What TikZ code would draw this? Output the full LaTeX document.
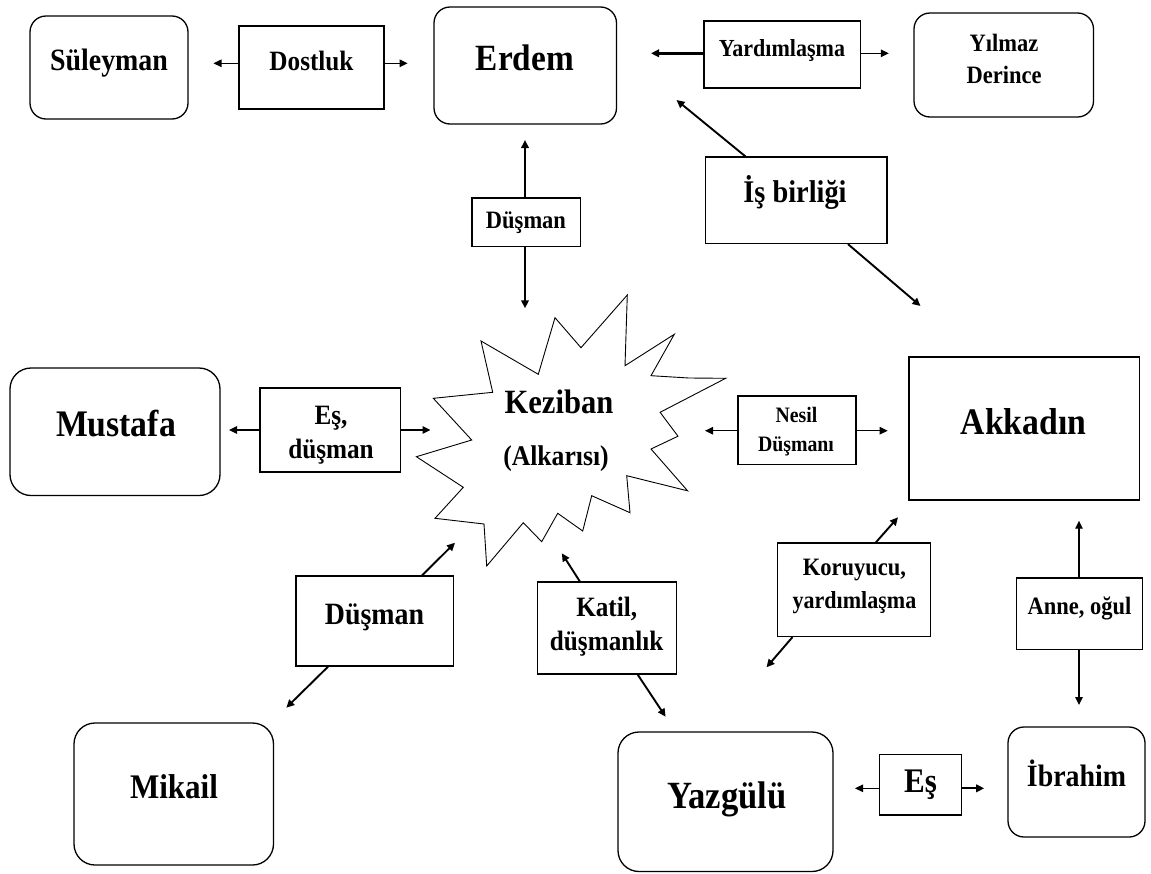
\documentclass[tikz,border=0pt]{standalone}
\usepackage{fontspec}
\setmainfont{Liberation Serif}[FakeStretch=0.9]
\usetikzlibrary{arrows.meta,calc,fit}

\tikzset{
  box/.style={draw, line width=1.3pt, inner sep=0pt},
  rbox/.style={box, rounded corners=16pt},
  bigrbox/.style={box, rounded corners=21pt},
  lbl/.style={inner sep=0pt, anchor=base, font=\bfseries\fontsize{#1}{#1}\selectfont},
  tip/.style={-{Triangle[length=8pt,width=7.5pt]}},
  arr/.style={tip, line width=1.9pt},
  arrthin/.style={tip, line width=1.2pt},
  arrbold/.style={tip, line width=2.4pt},
  starline/.style={draw, line width=0.9pt, line join=miter},
}

\begin{document}
\begin{tikzpicture}[x=1pt, y=-1pt]
\useasboundingbox (0,0) rectangle (1151,873);

% ---------- characters ----------
\node[rbox, fit={(30,16) (188,119)}] (suleyman) {};
\node[lbl=31] (suleyman-t) at (109,70.7) {Süleyman};

\node[rbox, fit={(434,7) (616.5,124)}] (erdem) {};
\node[lbl=37] (erdem-t) at (525,70.7) {Erdem};

\node[rbox, fit={(914,13) (1093.5,117)}] (yilmaz) {};
\node[lbl=25] (yilmaz-t1) at (1004,51.7) {Yılmaz};
\node[lbl=25] (yilmaz-t2) at (1004,83.3) {Derince};

\node[bigrbox, fit={(10,368) (220,495.5)}] (mustafa) {};
\node[lbl=37.5] (mustafa-t) at (116,436.7) {Mustafa};

\node[box, fit={(909,357) (1139.5,500)}] (akkadin) {};
\node[lbl=37.5] (akkadin-t) at (1023.5,434) {Akkadın};

\node[bigrbox, fit={(74,723) (273.5,865)}] (mikail) {};
\node[lbl=34.5] (mikail-t) at (174,798.3) {Mikail};

\node[bigrbox, fit={(618,732) (833,871.5)}] (yazgulu) {};
\node[lbl=38.5] (yazgulu-t) at (727,808.3) {Yazgülü};

\node[rbox, fit={(1008,727) (1145,837)}] (ibrahim) {};
\node[lbl=31] (ibrahim-t) at (1076.5,786) {İbrahim};

% ---------- central figure ----------
\draw[starline]
  (481,341) -- (538.3,374.3) -- (555,317.7) -- (581,347.7) -- (627.3,295)
  -- (625,365.7) -- (674.3,334.3) -- (651,375.7) -- (689,378) -- (725.7,378.3)
  -- (660.1,412.3) -- (678,436.2) -- (651,449) -- (687.6,490.8)
  -- (626.7,475.7) -- (630,512.7) -- (591.7,495.7) -- (582.7,531)
  -- (557.7,513.3) -- (541.7,541.7) -- (523.3,522.7) -- (486.7,566)
  -- (484,524) -- (435,518.3) -- (463.3,487.3) -- (416.4,456.7)
  -- (471.7,440) -- (433.3,398.3) -- (492.7,392.3) -- cycle;
\node[lbl=34] (keziban-t) at (559,413.3) {Keziban};
\node[lbl=28.5] (alkarisi-t) at (556,465) {(Alkarısı)};

% ---------- relation boxes ----------
\node[box, fit={(239,26) (384,109)}] (dostluk) {};
\node[lbl=28] (dostluk-t) at (311.5,70.7) {Dostluk};

\node[box, fit={(704,21) (860.5,88)}] (yardim) {};
\node[lbl=24.5] (yardim-t) at (782,56.7) {Yardımlaşma};

\node[box, fit={(472,198) (580.5,246.5)}] (dusmanA) {};
\node[lbl=25] (dusmanA-t) at (526,228.3) {Düşman};

\node[box, fit={(705.5,157) (887,243.5)}] (isbirligi) {};
\node[lbl=31.5] (isbirligi-t) at (795,202.7) {İş birliği};

\node[box, fit={(260,388) (400.5,472)}] (esdusman) {};
\node[lbl=28] (esdusman-t1) at (331,424) {Eş,};
\node[lbl=28] (esdusman-t2) at (331,458.3) {düşman};

\node[box, fit={(738,396) (856,464.5)}] (nesil) {};
\node[lbl=22] (nesil-t1) at (796.5,422.7) {Nesil};
\node[lbl=22] (nesil-t2) at (796,451.7) {Düşmanı};

\node[box, fit={(777.5,543) (930.5,636.5)}] (koruyucu) {};
\node[lbl=25] (koruyucu-t1) at (854.5,575) {Koruyucu,};
\node[lbl=24.5] (koruyucu-t2) at (854.5,608.3) {yardımlaşma};

\node[box, fit={(1016.5,578) (1142.5,649.5)}] (anne) {};
\node[lbl=25] (anne-t) at (1079.5,614) {Anne, oğul};

\node[box, fit={(296,576) (453.5,666)}] (dusmanB) {};
\node[lbl=31] (dusmanB-t) at (374.5,624) {Düşman};

\node[box, fit={(537.5,582) (676.5,674)}] (katil) {};
\node[lbl=28] (katil-t1) at (606.7,616) {Katil,};
\node[lbl=28] (katil-t2) at (606.7,650) {düşmanlık};

\node[box, fit={(879.5,754.5) (961.5,815)}] (es) {};
\node[lbl=34.5] (es-t) at (920.5,792.7) {Eş};

% ---------- arrow tips ----------
\coordinate (dostlukL) at (213.5,63.3);
\coordinate (dostlukR) at (407.6,63.3);
\coordinate (yardimL) at (651,53.3);
\coordinate (yardimR) at (888.8,53.3);
\coordinate (dusmanAU) at (525,140);
\coordinate (dusmanAD) at (525,308.3);
\coordinate (isbirligiU) at (676.5,100);
\coordinate (isbirligiD) at (920.5,306);
\coordinate (esdusmanL) at (229,430);
\coordinate (esdusmanR) at (430.5,430);
\coordinate (nesilL) at (705,430.7);
\coordinate (nesilR) at (887.7,430.7);
\coordinate (koruyucuU) at (898,517.3);
\coordinate (koruyucuD) at (766.5,667.3);
\coordinate (anneU) at (1079,520.7);
\coordinate (anneD) at (1079,705);
\coordinate (dusmanBU) at (455,542.7);
\coordinate (dusmanBD) at (286.3,707.7);
\coordinate (katilU) at (561.8,553.3);
\coordinate (katilD) at (665.6,716.7);
\coordinate (esL) at (855,788.3);
\coordinate (esR) at (984.2,788.3);

% ---------- connectors ----------
\draw[arrthin] (dostluk.west |- dostlukL) -- (dostlukL);
\draw[arrthin] (dostluk.east |- dostlukR) -- (dostlukR);
\draw[arrbold] (yardim.west |- yardimL) -- (yardimL);
\draw[arrthin] (yardim.east |- yardimR) -- (yardimR);
\draw[arr] (dusmanA.north -| dusmanAU) -- (dusmanAU);
\draw[arr] (dusmanA.south -| dusmanAD) -- (dusmanAD);
\draw[arr] ($(isbirligi.north west)!0.2215!(isbirligi.north east)$) -- (isbirligiU);
\draw[arr] ($(isbirligi.south west)!0.783!(isbirligi.south east)$) -- (isbirligiD);
\draw[arrthin] (esdusman.west |- esdusmanL) -- (esdusmanL);
\draw[arrthin] (esdusman.east |- esdusmanR) -- (esdusmanR);
\draw[arrthin] (nesil.west |- nesilL) -- (nesilL);
\draw[arrthin] (nesil.east |- nesilR) -- (nesilR);
\draw[arr] ($(koruyucu.north west)!0.642!(koruyucu.north east)$) -- (koruyucuU);
\draw[arr] ($(koruyucu.south west)!0.101!(koruyucu.south east)$) -- (koruyucuD);
\draw[arrthin] (anne.north -| anneU) -- (anneU);
\draw[arrthin] (anne.south -| anneD) -- (anneD);
\draw[arr] ($(dusmanB.north west)!0.798!(dusmanB.north east)$) -- (dusmanBU);
\draw[arr] ($(dusmanB.south west)!0.206!(dusmanB.south east)$) -- (dusmanBD);
\draw[arr] ($(katil.north west)!0.306!(katil.north east)$) -- (katilU);
\draw[arr] ($(katil.south west)!0.719!(katil.south east)$) -- (katilD);
\draw[arrthin] (es.west |- esL) -- (esL);
\draw[arr] (es.east |- esR) -- (esR);
\end{tikzpicture}
\end{document}
